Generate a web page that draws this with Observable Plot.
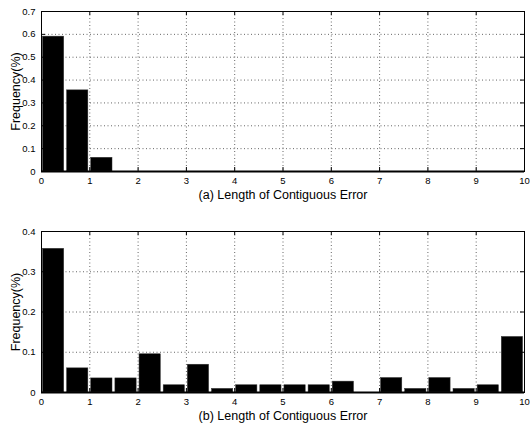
<!DOCTYPE html>
<html><head><meta charset="utf-8">
<script src="https://cdn.jsdelivr.net/npm/d3@7"></script>
<script src="https://cdn.jsdelivr.net/npm/@observablehq/plot@0.6"></script>
<style>
body{margin:0;background:#fff}
#c svg{display:block;overflow:visible}
</style>
</head><body><div id="c"></div>
<script>
const binCenters = [0.25,0.75,1.25,1.75,2.25,2.75,3.25,3.75,4.25,4.75,5.25,5.75,6.25,6.75,7.25,7.75,8.25,8.75,9.25,9.75];
const freqA = [0.59,0.355,0.06,0,0,0,0,0,0,0,0,0,0,0,0,0,0,0,0,0];
const freqB = [0.357,0.060,0.035,0.035,0.095,0.018,0.069,0.009,0.018,0.018,0.018,0.018,0.027,0,0.036,0.009,0.036,0.009,0.018,0.138];
const xTicks = [0,1,2,3,4,5,6,7,8,9,10];
const yTicksA = [0,0.1,0.2,0.3,0.4,0.5,0.6,0.7];
const yTicksB = [0,0.1,0.2,0.3,0.4];
const yLabel = "Frequency(%)";
const xLabelA = "(a) Length of Contiguous Error";
const xLabelB = "(b) Length of Contiguous Error";

const halfWidth = 0.22;
const xMax = 10;

function panel(vals, yTicks, xLabel, height, mt, mb) {
  const yMax = yTicks[yTicks.length - 1];
  const data = binCenters.map((c, i) => ({c, v: vals[i]}));
  const plotH = height - mt - mb;
  const plotW = 530 - 41 - 6;
  const tx = 4 * yMax / plotH;   // inward tick length (data units along y)
  const ty = 4 * xMax / plotW;   // inward tick length (data units along x)
  const innerX = xTicks.slice(1, -1);
  const innerY = yTicks.slice(1, -1);
  return Plot.plot({
    width: 530, height,
    marginLeft: 41, marginRight: 6, marginTop: mt, marginBottom: mb,
    style: {fontFamily: "'Liberation Sans', Arial, Helvetica, sans-serif", fontSize: "9.5px", color: "black", background: "transparent", overflow: "visible"},
    x: {domain: [0, xMax]},
    y: {domain: [0, yMax]},
    marks: [
      Plot.gridX(innerX, {stroke: "#666", strokeOpacity: 1, strokeDasharray: "1,2.5"}),
      Plot.gridY(innerY, {stroke: "#666", strokeOpacity: 1, strokeDasharray: "1,2.5"}),
      Plot.rectY(data, {x1: d => d.c - halfWidth, x2: d => d.c + halfWidth, y1: 0, y2: "v", fill: "black", stroke: "#333", strokeWidth: 0.5}),
      Plot.ruleX(innerX, {y1: 0, y2: tx, stroke: "black"}),
      Plot.ruleX(innerX, {y1: yMax, y2: yMax - tx, stroke: "black"}),
      Plot.ruleY(innerY, {x1: 0, x2: ty, stroke: "black"}),
      Plot.ruleY(innerY, {x1: xMax, x2: xMax - ty, stroke: "black"}),
      Plot.axisX(xTicks, {tickSize: 0, tickPadding: 6, label: xLabel, labelAnchor: "center", labelOffset: 27, labelArrow: "none", fontSize: 9.5}),
      Plot.axisY(yTicks, {tickSize: 0, tickPadding: 6, label: yLabel, labelAnchor: "center", labelOffset: 30, labelArrow: "none", tickFormat: d => String(d)}),
      Plot.ruleY([0], {stroke: "black", strokeWidth: 2}),
      Plot.frame({stroke: "black", strokeWidth: 1})
    ]
  });
}

const c = document.getElementById("c");
c.append(panel(freqA, yTicksA, xLabelA, 200, 11, 29));
c.append(panel(freqB, yTicksB, xLabelB, 223, 31, 31));

// enlarge axis labels
c.querySelectorAll("svg").forEach(svg => {
  svg.querySelectorAll("g[aria-label='x-axis label'] text, g[aria-label='y-axis label'] text").forEach(t => t.style.fontSize = "12.5px");
});
</script>
</body></html>
